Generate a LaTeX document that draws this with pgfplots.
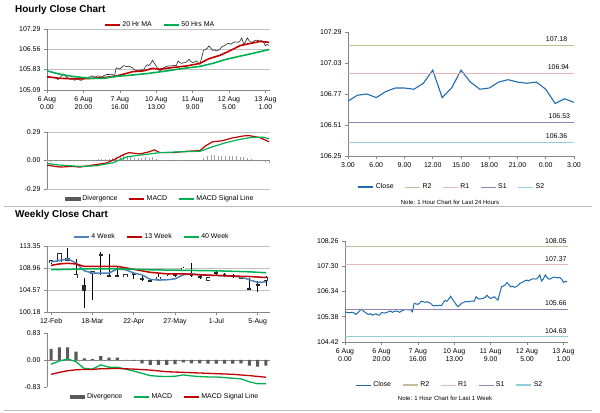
\documentclass[border=0pt]{standalone}
\usepackage{fontspec}
\setmainfont{Liberation Sans}
\usepackage{pgfplots}
\pgfplotsset{compat=1.18}
\usepackage{pgfplotstable}

\definecolor{mared}{HTML}{C00000}
\definecolor{magreen}{HTML}{00B050}
\definecolor{wkblue}{HTML}{4F81BD}
\definecolor{closeblue}{HTML}{1F6BB0}
\definecolor{rtwo}{HTML}{C4BD97}
\definecolor{rone}{HTML}{E6B9B8}
\definecolor{sone}{HTML}{8E86AE}
\definecolor{stwo}{HTML}{92CDDC}
\definecolor{axgray}{HTML}{868686}
\definecolor{grgray}{HTML}{C0C0C0}
\definecolor{divgray}{HTML}{595959}

\pgfplotsset{
  base/.style={
    scale only axis, anchor=south west,
    axis x line*=bottom, axis y line*=left,
    axis line style={axgray, line width=0.6bp, -},
    tick align=outside, major tick length=3bp,
    tick style={axgray, line width=0.6bp},
    ticklabel style={font=\fontsize{7}{8}\selectfont},
    /pgf/number format/assume math mode=true,
    grid style={grgray, line width=0.6bp},
    legend style={draw=none, fill=none, font=\fontsize{7}{8}\selectfont, legend columns=-1, anchor=center,
      /tikz/every even column/.append style={column sep=9bp}},
    legend image code/.code={\draw[##1] (0bp,0bp) -- (15bp,0bp);},
  },
  hourx/.style={
    xmin=0, xmax=122.5,
    xtick={0,20,40,60,80,100,120},
    xticklabels={{6 Aug\\0.00},{6 Aug\\20.00},{7 Aug\\16.00},{10 Aug\\13.00},{11 Aug\\9.00},{12 Aug\\5.00},{13 Aug\\1.00}},
    xticklabel style={align=center},
  },
  candle/.style={draw=none, mark=none, forget plot,
    error bars/.cd, y dir=both, y explicit, error mark=none},
}

% ---------- hourly close (last week) ----------
\pgfplotstableread{
i c
0 105.56
1 105.55
2 105.53
3 105.54
4 105.55
5 105.52
6 105.47
7 105.53
8 105.60
9 105.67
10 105.60
11 105.55
12 105.50
13 105.47
14 105.50
15 105.44
16 105.47
17 105.49
18 105.45
19 105.44
20 105.54
21 105.53
22 105.52
23 105.55
24 105.57
25 105.60
26 105.55
27 105.58
28 105.60
29 105.58
30 105.55
31 105.60
32 105.63
33 105.65
34 105.65
35 105.64
36 105.65
37 105.57
38 105.89
39 105.87
40 105.85
41 105.90
42 105.97
43 105.95
44 105.93
45 105.95
46 105.92
47 105.89
48 105.82
49 105.79
50 105.81
51 105.80
52 105.82
53 105.80
54 105.92
55 106.00
56 105.97
57 106.05
58 106.16
59 106.05
60 105.95
61 105.85
62 105.76
63 105.82
64 105.89
65 105.92
66 105.95
67 105.96
68 105.95
69 105.97
70 105.98
71 105.97
72 106.14
73 106.08
74 106.05
75 106.07
76 106.08
77 106.12
78 106.20
79 106.12
80 106.08
81 106.10
82 106.14
83 106.08
84 106.01
85 106.27
86 106.52
87 106.55
88 106.59
89 106.68
90 106.60
91 106.52
92 106.54
93 106.50
94 106.52
95 106.56
96 106.65
97 106.68
98 106.71
99 106.76
100 106.77
101 106.74
102 106.79
103 106.82
104 106.82
105 106.81
106 106.86
107 106.97
108 106.74
109 106.82
110 106.97
111 106.87
112 106.81
113 106.82
114 106.87
115 106.89
116 106.87
117 106.86
118 106.87
119 106.81
120 106.69
121 106.73
122 106.70
}\hourly

\pgfplotstableread{
i v
0 105.57
7 105.51
18 105.49
25 105.51
33 105.55
37 105.58
42 105.66
47 105.75
53 105.78
58 105.87
62 105.84
69 105.90
77 105.96
84 106.05
89 106.22
95 106.34
100 106.49
106 106.69
111 106.76
117 106.84
122 106.81
}\matwenty

\pgfplotstableread{
i v
0 105.78
7 105.66
14 105.58
24 105.51
31 105.51
38 105.58
47 105.63
56 105.69
66 105.78
75 105.87
84 105.94
91 106.05
98 106.19
106 106.31
113 106.41
122 106.55
}\mafifty

\pgfplotstableread{
i v
0 -0.047
7 -0.067
14 -0.060
18 -0.067
25 -0.047
33 -0.024
38 0.020
42 0.060
45 0.080
51 0.067
56 0.088
59 0.108
62 0.080
69 0.080
77 0.094
84 0.100
87 0.148
91 0.190
96 0.200
102 0.230
108 0.250
111 0.253
117 0.233
122 0.190
}\hmacd

\pgfplotstableread{
i v
0 -0.030
7 -0.047
18 -0.060
27 -0.054
36 -0.024
44 0.037
51 0.054
62 0.080
73 0.088
84 0.094
91 0.140
98 0.180
106 0.215
113 0.236
119 0.236
122 0.220
}\hsig

\pgfplotstableread{
i d
0 -0.012
2 -0.012
4 -0.010
6 -0.008
8 -0.004
10 -0.003
12 0.000
14 0.002
16 0.003
18 0.004
20 0.005
22 0.006
24 0.008
26 0.010
28 0.012
30 0.014
32 0.016
34 0.020
36 0.025
38 0.040
40 0.055
42 0.060
44 0.050
46 0.040
48 0.030
50 0.025
52 0.030
54 0.035
56 0.030
58 0.035
60 0.020
62 0.010
64 0.005
66 0.003
68 0.002
70 0.004
72 0.006
74 0.005
76 0.006
78 0.008
80 0.006
82 0.005
84 0.004
86 0.025
88 0.045
90 0.055
92 0.055
94 0.050
96 0.048
98 0.050
100 0.048
102 0.046
104 0.044
106 0.040
108 0.035
110 0.025
112 0.012
114 0.004
116 -0.004
118 -0.010
120 -0.018
122 -0.025
}\hdiv

% ---------- last 24 hours ----------
\pgfplotstableread{
i c
0 106.71
1 106.76
2 106.77
3 106.74
4 106.79
5 106.82
6 106.82
7 106.81
8 106.86
9 106.97
10 106.74
11 106.82
12 106.97
13 106.87
14 106.81
15 106.82
16 106.87
17 106.89
18 106.87
19 106.86
20 106.87
21 106.81
22 106.69
23 106.73
24 106.70
}\dayclose

% ---------- weekly candles ----------
\pgfplotstableread{
i O H L C
0 110.00 110.50 109.80 110.35
1 110.20 111.90 110.10 111.85
2 110.60 112.90 110.30 110.80
3 107.05 110.70 107.00 107.60
5 108.00 108.30 102.60 108.20
9 107.35 107.60 107.20 107.45
13 106.90 107.80 106.40 107.00
14 107.70 108.00 107.40 107.80
16 108.60 109.20 108.40 108.90
19 106.50 107.10 106.40 107.00
23 106.90 107.40 106.80 107.30
26 106.50 107.40 105.40 107.00
}\wkup

\pgfplotstableread{
i O H L C
4 105.50 107.00 101.00 104.30
6 111.60 112.10 107.60 111.50
7 107.60 111.70 107.10 107.20
8 107.50 109.40 107.20 107.40
10 107.90 108.10 106.70 107.80
11 106.80 107.30 106.30 106.70
12 106.50 106.60 106.10 106.20
15 107.60 108.00 107.20 107.50
17 107.80 110.00 107.20 107.30
18 107.40 107.70 106.70 107.00
20 108.10 108.40 107.40 107.70
21 107.70 108.00 107.20 107.60
22 107.50 107.80 107.00 107.40
24 105.00 106.90 104.60 104.70
25 105.70 106.40 104.20 105.60
}\wkdown

\pgfplotstableread{
i v
0 110.18
1 110.44
2 110.78
3 109.97
4 108.42
5 107.95
6 107.95
7 107.95
8 108.76
9 108.62
10 107.95
11 107.60
12 106.70
13 106.55
14 106.60
15 106.80
16 107.60
17 107.80
18 107.60
19 107.50
20 107.50
21 107.40
22 107.30
23 107.20
24 106.60
25 106.10
26 106.20
}\wkfour

\pgfplotstableread{
i v
0 109.49
1 109.77
2 109.90
3 109.77
4 109.29
6 109.29
8 109.29
10 108.70
12 108.10
14 107.80
16 107.80
18 107.61
20 107.47
22 107.35
24 107.26
26 107.06
}\wkthirteen

\pgfplotstableread{
i v
0 108.62
4 108.76
8 108.80
12 108.60
16 108.50
20 108.40
24 108.20
26 108.00
}\wkforty

\pgfplotstableread{
i d m s
0 0.34 -0.13 -0.44
1 0.39 -0.03 -0.38
2 0.39 0.03 -0.33
3 0.26 -0.05 -0.30
4 0.05 -0.26 -0.29
5 0.03 -0.28 -0.29
6 0.12 -0.15 -0.27
7 0.07 -0.22 -0.265
8 0.07 -0.22 -0.26
9 0.00 -0.28 -0.27
10 -0.02 -0.34 -0.28
11 -0.10 -0.41 -0.295
12 -0.15 -0.48 -0.31
13 -0.15 -0.50 -0.335
14 -0.15 -0.51 -0.36
15 -0.13 -0.50 -0.37
16 -0.07 -0.46 -0.38
17 -0.10 -0.49 -0.39
18 -0.10 -0.51 -0.40
19 -0.11 -0.52 -0.41
20 -0.11 -0.52 -0.42
21 -0.11 -0.54 -0.43
22 -0.11 -0.56 -0.44
23 -0.10 -0.58 -0.46
24 -0.17 -0.67 -0.48
25 -0.20 -0.73 -0.505
26 -0.17 -0.73 -0.53
}\wkmacd

\begin{document}
\begin{tikzpicture}
\useasboundingbox (0bp,0bp) rectangle (600bp,413bp);

% titles and separators
\node[anchor=base west, font=\bfseries\fontsize{10}{12}\selectfont, inner sep=0] at (15bp,400.5bp) {Hourly Close Chart};
\node[anchor=base west, font=\bfseries\fontsize{10}{12}\selectfont, inner sep=0] at (15bp,195.5bp) {Weekly Close Chart};
\draw[gray!55, line width=1bp] (4bp,206.5bp) -- (592bp,206.5bp);
\draw[gray!55, line width=1bp] (4bp,2bp) -- (592bp,2bp);

% ===== A1: hourly candles + MA =====
\begin{axis}[base, hourx, at={(47bp,323bp)}, width=223bp, height=61bp,
  ymin=105.09, ymax=107.29,
  ytick={105.09,105.83,106.56,107.29}, yticklabels={105.09,105.83,106.56,107.29},
  ymajorgrids,
  legend style={at={(0.507,1.066)}}]
\addplot[forget plot, black!85, line width=0.6bp] table[x=i, y=c] {\hourly};
\addplot[mared, line width=1.6bp] table[x=i, y=v] {\matwenty};
\addlegendentry{20 Hr MA}
\addplot[magreen, line width=1.6bp] table[x=i, y=v] {\mafifty};
\addlegendentry{50 Hrs MA}
\end{axis}

% ===== A2: hourly MACD =====
\begin{axis}[base, at={(47bp,224bp)}, width=223bp, height=57bp,
  xmin=0, xmax=122.5, axis x line*=middle, xtick=\empty,
  ymin=-0.29, ymax=0.29,
  ytick={-0.29,0,0.29}, yticklabels={-0.29,0.00,0.29},
  ymajorgrids,
  legend style={at={(0.507,-0.175)}}]
\addplot[ycomb, gray!75, line width=0.6bp, mark=none,
  legend image code/.code={\fill[divgray] (0bp,-1.8bp) rectangle (15bp,1.8bp);}] table[x=i, y=d] {\hdiv};
\addlegendentry{Divergence}
\addplot[mared, line width=1.2bp] table[x=i, y=v] {\hmacd};
\addlegendentry{MACD}
\addplot[magreen, line width=1.2bp] table[x=i, y=v] {\hsig};
\addlegendentry{MACD Signal Line}
\end{axis}

% ===== A3: last 24 hours =====
\begin{axis}[base, clip=false, at={(348bp,257bp)}, width=226bp, height=124bp,
  xmin=0, xmax=24, xtick={0,3,...,24},
  xticklabels={3.00,6.00,9.00,12.00,15.00,18.00,21.00,0.00,3.00},
  ymin=106.25, ymax=107.29,
  ytick={106.25,106.51,106.77,107.03,107.29}, yticklabels={106.25,106.51,106.77,107.03,107.29},
  legend style={at={(0.46,-0.25)}}]
\addplot[closeblue, line width=1.1bp] table[x=i, y=c] {\dayclose};
\addlegendentry{Close}
\addplot[rtwo, line width=0.9bp] coordinates {(0,107.18) (24,107.18)};
\addlegendentry{R2}
\addplot[rone, line width=0.9bp] coordinates {(0,106.94) (24,106.94)};
\addlegendentry{R1}
\addplot[sone, line width=0.9bp] coordinates {(0,106.53) (24,106.53)};
\addlegendentry{S1}
\addplot[stwo, line width=0.9bp] coordinates {(0,106.36) (24,106.36)};
\addlegendentry{S2}
\node[anchor=base east, font=\fontsize{7}{8}\selectfont, inner sep=0, yshift=4bp] at (axis cs:23.3,107.18) {107.18};
\node[anchor=base east, font=\fontsize{7}{8}\selectfont, inner sep=0, yshift=4bp] at (axis cs:23.5,106.94) {106.94};
\node[anchor=base east, font=\fontsize{7}{8}\selectfont, inner sep=0, yshift=4bp] at (axis cs:23.6,106.53) {106.53};
\node[anchor=base east, font=\fontsize{7}{8}\selectfont, inner sep=0, yshift=4bp] at (axis cs:23.3,106.36) {106.36};
\end{axis}
\node[font=\fontsize{6}{7}\selectfont] at (450bp,211bp) {Note: 1 Hour Chart for Last 24 Hours};

% ===== A4: weekly candles =====
\begin{axis}[base, at={(47bp,101bp)}, width=223bp, height=66bp,
  xmin=-0.5, xmax=26.5, xtick={0,5,10,15,20,25},
  xticklabels={12-Feb,18-Mar,22-Apr,27-May,1-Jul,5-Aug},
  ymin=100.18, ymax=113.35,
  ytick={100.18,104.57,108.96,113.35}, yticklabels={100.18,104.57,108.96,113.35},
  ymajorgrids,
  legend style={at={(0.47,1.136)}}]
% wicks
\addplot[candle, error bar style={draw=black, line width=0.5bp}]
  table[x=i, y expr={(\thisrow{H}+\thisrow{L})/2}, y error expr={(\thisrow{H}-\thisrow{L})/2}] {\wkup};
\addplot[candle, error bar style={draw=black, line width=0.5bp}]
  table[x=i, y expr={(\thisrow{H}+\thisrow{L})/2}, y error expr={(\thisrow{H}-\thisrow{L})/2}] {\wkdown};
% down bodies (filled)
\addplot[candle, error bar style={draw=black!85, line width=3.8bp, line cap=butt}]
  table[x=i, y expr={(\thisrow{O}+\thisrow{C})/2}, y error expr={max(abs(\thisrow{C}-\thisrow{O})/2,0.15)}] {\wkdown};
% up bodies (hollow)
\addplot[candle, error bar style={draw=black!80, line width=4.4bp, line cap=butt}]
  table[x=i, y expr={(\thisrow{O}+\thisrow{C})/2}, y error expr={max(abs(\thisrow{C}-\thisrow{O})/2,0.15)+0.12}] {\wkup};
\addplot[candle, error bar style={draw=white, line width=3bp, line cap=butt}]
  table[x=i, y expr={(\thisrow{O}+\thisrow{C})/2}, y error expr={max(abs(\thisrow{C}-\thisrow{O})/2,0.15)}] {\wkup};
\addplot[wkblue, line width=1.5bp] table[x=i, y=v] {\wkfour};
\addlegendentry{4 Week}
\addplot[mared, line width=1.5bp] table[x=i, y=v] {\wkthirteen};
\addlegendentry{13 Week}
\addplot[magreen, line width=1.5bp] table[x=i, y=v] {\wkforty};
\addlegendentry{40 Week}
\end{axis}

% ===== A5: weekly MACD =====
\begin{axis}[base, at={(47bp,26bp)}, width=223bp, height=54bp,
  xmin=-0.5, xmax=26.5, axis x line*=middle, xtick=\empty,
  ymin=-0.83, ymax=0.83,
  ytick={-0.83,0,0.83}, yticklabels={-0.83,0.00,0.83},
  legend style={at={(0.53,-0.185)}}]
\addplot[ybar, bar width=3.2bp, fill=divgray, draw=none,
  legend image code/.code={\fill[divgray] (0bp,-1.8bp) rectangle (15bp,1.8bp);}] table[x=i, y=d] {\wkmacd};
\addlegendentry{Divergence}
\addplot[magreen, line width=1.3bp] table[x=i, y=m] {\wkmacd};
\addlegendentry{MACD}
\addplot[mared, line width=1.3bp] table[x=i, y=s] {\wkmacd};
\addlegendentry{MACD Signal Line}
\end{axis}

% ===== A6: hourly close last week with pivots =====
\begin{axis}[base, hourx, clip=false, at={(345bp,71bp)}, width=223bp, height=101bp,
  ymin=104.42, ymax=108.26,
  ytick={104.42,105.38,106.34,107.30,108.26}, yticklabels={104.42,105.38,106.34,107.30,108.26},
  legend style={at={(0.47,-0.426)}}]
\addplot[closeblue, line width=1bp] table[x=i, y=c] {\hourly};
\addlegendentry{Close}
\addplot[rtwo, line width=1.3bp] coordinates {(0,108.05) (122.5,108.05)};
\addlegendentry{R2}
\addplot[rone, line width=0.9bp] coordinates {(0,107.37) (122.5,107.37)};
\addlegendentry{R1}
\addplot[sone, line width=0.9bp] coordinates {(0,105.66) (122.5,105.66)};
\addlegendentry{S1}
\addplot[stwo, line width=1.3bp] coordinates {(0,104.63) (122.5,104.63)};
\addlegendentry{S2}
\node[anchor=base east, font=\fontsize{7}{8}\selectfont, inner sep=0, yshift=3bp] at (axis cs:121.8,108.05) {108.05};
\node[anchor=base east, font=\fontsize{7}{8}\selectfont, inner sep=0, yshift=3bp] at (axis cs:121.8,107.37) {107.37};
\node[anchor=base east, font=\fontsize{7}{8}\selectfont, inner sep=0, yshift=4bp] at (axis cs:121.8,105.66) {105.66};
\node[anchor=base east, font=\fontsize{7}{8}\selectfont, inner sep=0, yshift=3bp] at (axis cs:121.8,104.63) {104.63};
\end{axis}
\node[font=\fontsize{6}{7}\selectfont] at (445bp,15bp) {Note: 1 Hour Chart for Last 1 Week};

\end{tikzpicture}
\end{document}
